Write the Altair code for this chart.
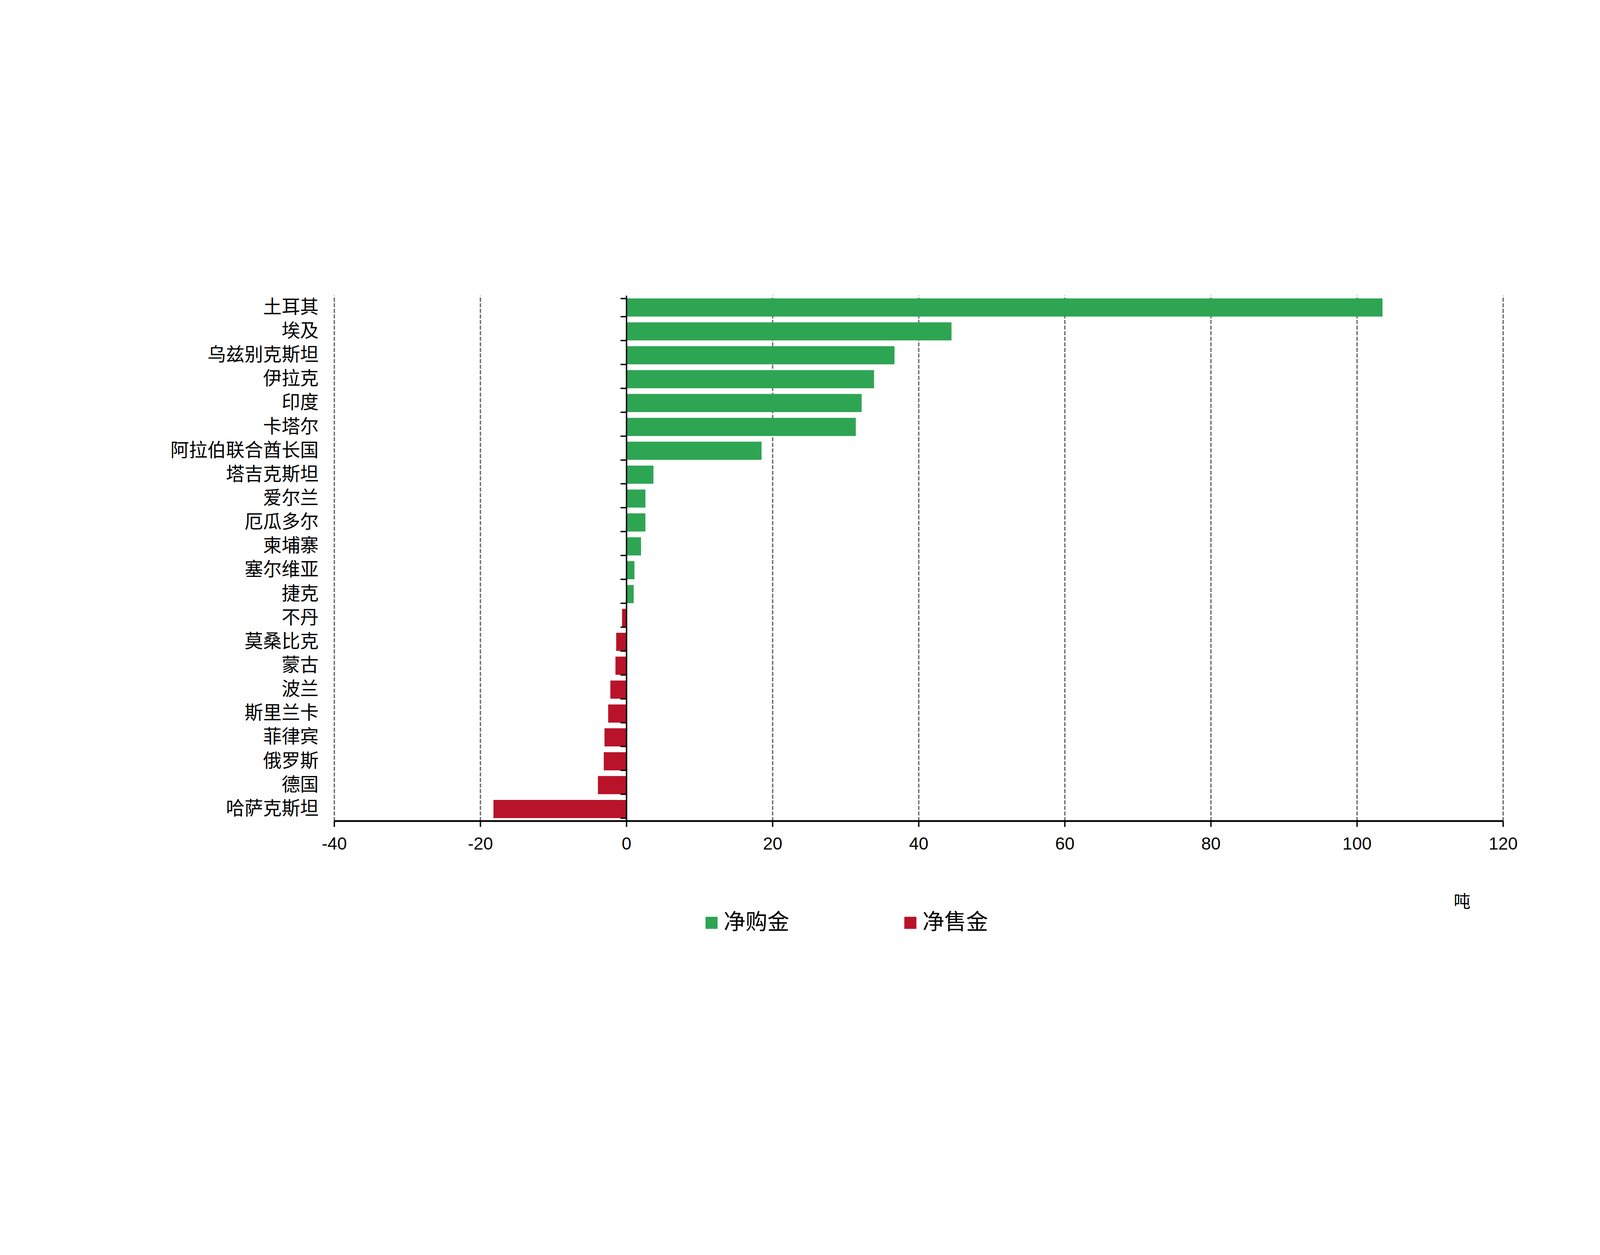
import altair as alt
import pandas as pd

countries = ["土耳其", "埃及", "乌兹别克斯坦", "伊拉克", "印度", "卡塔尔", "阿拉伯联合酋长国",
             "塔吉克斯坦", "爱尔兰", "厄瓜多尔", "柬埔寨", "塞尔维亚", "捷克", "不丹", "莫桑比克",
             "蒙古", "波兰", "斯里兰卡", "菲律宾", "俄罗斯", "德国", "哈萨克斯坦"]
values = [103.5, 44.5, 36.7, 33.9, 32.2, 31.4, 18.5, 3.7, 2.6, 2.6, 2.0, 1.1, 1.0,
          -0.6, -1.4, -1.5, -2.2, -2.5, -3.0, -3.1, -3.9, -18.2]
series = ["净购金", "净售金"]
colors = ["#2EA553", "#B81329"]
x_ticks = [-40, -20, 0, 20, 40, 60, 80, 100, 120]
unit = "吨"

CJK = "Noto Sans CJK SC"
LAT = "Liberation Sans"
W, H = 5232, 2352

df = pd.DataFrame({"country": countries, "value": values})
df["type"] = [series[0] if v > 0 else series[1] for v in values]

chart = alt.Chart(df).mark_bar().encode(
    y=alt.Y(
        "country:N", sort=countries,
        scale=alt.Scale(paddingInner=0.24, paddingOuter=0.12),
        axis=alt.Axis(
            title=None, orient="left", offset=-W / 4,
            domain=True, domainColor="black", domainWidth=6,
            ticks=True, tickBand="extent", tickSize=27, tickWidth=6, tickColor="black",
            labelPadding=1351, labelFont=CJK, labelFontSize=83, labelColor="black",
            labelLimit=3000, grid=False, zindex=1,
        ),
    ),
    x=alt.X(
        "value:Q",
        scale=alt.Scale(domain=[-40, 120], nice=False, zero=False),
        axis=alt.Axis(
            values=x_ticks, labelExpr="'' + datum.value",
            title=unit, titleFont=CJK, titleFontSize=75,
            titleFontWeight="normal", titleColor="black",
            titleX=5048, titleY=364, titleAlign="center", titleBaseline="middle", titleAngle=0,
            domain=True, domainColor="black", domainWidth=8,
            ticks=True, tickSize=26, tickWidth=6, tickColor="black",
            labelFont=LAT, labelFontSize=78, labelColor="black", labelPadding=40,
            labelFlush=False, labelOverlap=False,
            grid=True, gridColor="#6b6b6b", gridWidth=6, gridDash=[18, 7], gridOpacity=1,
        ),
    ),
    color=alt.Color(
        "type:N",
        scale=alt.Scale(domain=series, range=colors),
        legend=alt.Legend(
            title=None, orient="none", legendX=1640, legendY=2759,
            direction="horizontal", symbolType="square", symbolSize=2916,
            symbolStrokeWidth=0, symbolOpacity=1,
            labelFont=CJK, labelFontSize=98, labelColor="black", labelOffset=5,
            labelLimit=0, columnPadding=492, padding=0,
        ),
    ),
).properties(
    width=W, height=H,
    autosize=alt.AutoSizeParams(type="none"),
    padding={"left": 1482, "top": 120, "right": 420, "bottom": 705},
).configure_view(stroke=None)

chart.save("out.html", embed_options={"renderer": "svg", "actions": False})
